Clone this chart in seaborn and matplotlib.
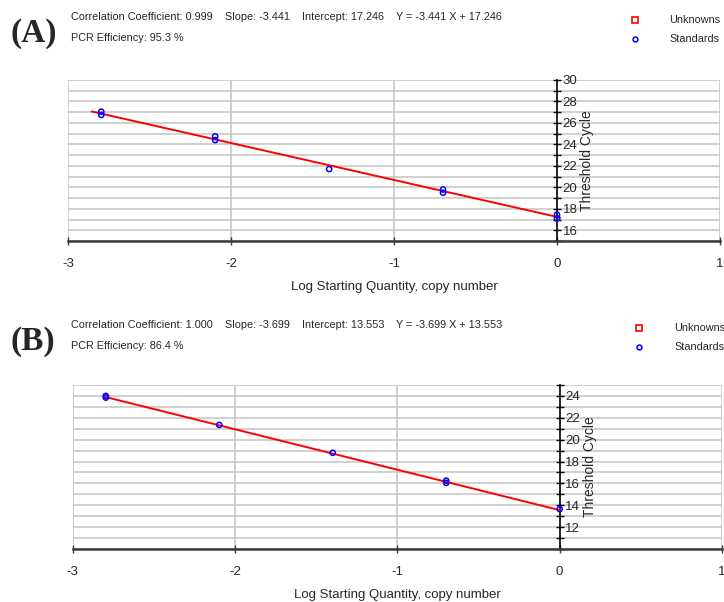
import matplotlib
matplotlib.use("Agg")
import matplotlib.pyplot as plt
import matplotlib.transforms as mtransforms
from matplotlib.lines import Line2D
import seaborn as sns
import pandas as pd
from matplotlib.ticker import MultipleLocator

# ---------------- data ----------------
log_qty_A = [-2.796, -2.796, -2.097, -2.097, -1.398, -0.699, -0.699, 0.0, 0.0]
ct_A = [27.05, 26.75, 24.75, 24.40, 21.70, 19.80, 19.50, 17.45, 17.10]
slope_A, intercept_A = -3.441, 17.246
line_x_A = [-2.855, 0.02]
text_A = ["Correlation Coefficient: 0.999", "Slope: -3.441", "Intercept: 17.246",
          "Y = -3.441 X + 17.246", "PCR Efficiency: 95.3 %"]

log_qty_B = [-2.796, -2.796, -2.097, -1.398, -0.699, -0.699, 0.0]
ct_B = [24.00, 23.85, 21.35, 18.80, 16.25, 16.05, 13.65]
slope_B, intercept_B = -3.699, 13.553
line_x_B = [-2.80, 0.0]
text_B = ["Correlation Coefficient: 1.000", "Slope: -3.699", "Intercept: 13.553",
          "Y = -3.699 X + 13.553", "PCR Efficiency: 86.4 %"]

x_ticks = [-3, -2, -1, 0, 1]
x_label = "Log Starting Quantity, copy number"
y_label = "Threshold Cycle"
legend_labels = ["Unknowns", "Standards"]

# ---------------- style ----------------
sns.set_theme(style="white")
plt.rcParams['font.family'] = ['Liberation Sans', 'DejaVu Sans']

W, H = 724, 602
fig = plt.figure(figsize=(W / 100, H / 100), dpi=100)
renderer = fig.canvas.get_renderer()


def fx(px):
    return px / W


def fy(py):
    return 1 - py / H


HS = 7.8  # header font size
GAP = 12  # px between header segments


def panel(rect, xs, ys, slope, intercept, lx, ylim, texts, letter, ytop, leg_x, leg_tx):
    ax = fig.add_axes(rect)
    ax.set_facecolor('none')
    df = pd.DataFrame({"x": xs, "y": ys})
    ldf = pd.DataFrame({"x": lx, "y": [slope * v + intercept for v in lx]})
    ax.set_xlim(-3, 1)
    ax.set_ylim(*ylim)
    # grid
    for yv in range(int(ylim[0]), int(ylim[1]) + 1):
        ax.axhline(yv, color='#c4c4c4', lw=1.1, zorder=0)
    for xv in [-3, -2, -1, 1]:
        ax.axvline(xv, color='#c4c4c4', lw=1.1, zorder=0)
    sns.lineplot(data=ldf, x="x", y="y", ax=ax, color='#ff0000', lw=1.4, zorder=3)
    sns.scatterplot(data=df, x="x", y="y", ax=ax, marker='o', s=14,
                    facecolor='none', edgecolor='#0000ff', linewidth=1.1, zorder=4)
    # spines
    for s in ['top', 'left']:
        ax.spines[s].set_visible(False)
    ax.spines['right'].set_position(('data', 0))
    ax.spines['right'].set_color('black')
    ax.spines['right'].set_linewidth(1.2)
    ax.spines['bottom'].set_color('#3a3a3a')
    ax.spines['bottom'].set_linewidth(1.8)
    ax.yaxis.tick_right()
    ax.yaxis.set_minor_locator(MultipleLocator(1))
    yt = [v for v in range(int(ylim[0]) + 1, int(ylim[1]) + 1) if v % 2 == 0]
    ax.set_yticks(yt)
    ax.tick_params(axis='y', which='both', direction='inout', length=6, width=1,
                   color='black', right=True, left=False, pad=1, labelsize=9.5)
    ax.set_xticks(x_ticks)
    ax.set_xticklabels([str(v) for v in x_ticks])
    ax.tick_params(axis='x', direction='inout', length=6, width=1, color='#3a3a3a',
                   bottom=True, pad=9, labelsize=9.5)
    ax.set_xlabel(x_label, fontsize=9.5, labelpad=8)
    ax.set_ylabel("")
    ax.text(0.185, 0.5, y_label,
            transform=mtransforms.blended_transform_factory(ax.transData, ax.transAxes),
            rotation=90, ha='center', va='center', fontsize=10)
    # header
    fig.text(fx(11), fy(ytop + 28), letter, family=['Liberation Serif', 'DejaVu Serif'],
             fontweight='bold', fontsize=24, va='baseline', ha='left')
    l1, l2 = ytop + 3, ytop + 24
    xp = 71
    for t in texts[:4]:
        tt = fig.text(fx(xp), fy(l1), t, fontsize=HS, va='center')
        bb = tt.get_window_extent(renderer=renderer)
        xp = bb.x1 + GAP
    fig.text(fx(71), fy(l2), texts[4], fontsize=HS, va='center')
    # legend
    fig.text(fx(leg_tx), fy(l1 + 3), legend_labels[0], fontsize=HS, va='center')
    fig.text(fx(leg_tx), fy(l2 + 1), legend_labels[1], fontsize=HS, va='center')
    fig.lines.append(Line2D([fx(leg_x)], [fy(l1 + 3)], transform=fig.transFigure,
                            marker='s', ms=4.5, mfc='none', mec='#ff0000', mew=1.2, ls=''))
    fig.lines.append(Line2D([fx(leg_x)], [fy(l2 + 1)], transform=fig.transFigure,
                            marker='o', ms=3.5, mfc='none', mec='#0000ff', mew=1.1, ls=''))
    return ax


axA = panel([fx(68), fy(241), (720 - 68) / W, (241 - 80) / H], log_qty_A, ct_A, slope_A, intercept_A,
            line_x_A, (15, 30), text_A, "(A)", 14, 635, 669)
axB = panel([fx(72.7), fy(549), (722 - 72.7) / W, (549 - 385) / H], log_qty_B, ct_B, slope_B, intercept_B,
            line_x_B, (10, 25), text_B, "(B)", 322, 639, 674)

fig.savefig("out.png", dpi=100)
